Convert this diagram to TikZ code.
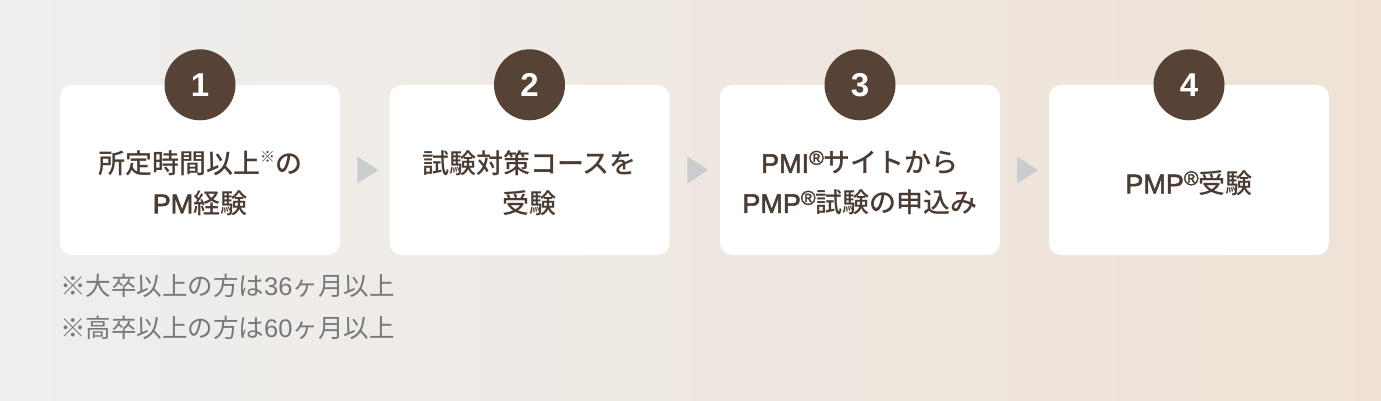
\documentclass[tikz,border=0pt]{standalone}
\usepackage{fontspec}
\setmainfont{Noto Sans CJK JP}[BoldFont={Noto Sans CJK JP Medium}]
\newfontfamily\latn{Liberation Sans}[BoldFont={Liberation Sans}, BoldFeatures={FakeBold=2}]
\newfontfamily\latb{Liberation Sans Bold}
\usetikzlibrary{shapes.geometric,calc}
\definecolor{bgL}{HTML}{EFEFEF}
\definecolor{bgR}{HTML}{EFE2D5}
\definecolor{brown}{HTML}{574336}
\definecolor{txt}{HTML}{4A3C32}
\definecolor{note}{HTML}{787878}
\definecolor{tri}{HTML}{CBCCCD}
\newcommand{\regmark}{\raisebox{0.3em}{\latn\fontsize{20}{20}\selectfont ®}}
\newcommand{\komemark}{\raisebox{0.38em}{\fontsize{15}{15}\selectfont ※}}
\newcommand{\lat}[1]{{\latn #1}}
\tikzset{
  stepbox/.style={fill=white, rounded corners=12pt, minimum width=280pt, minimum height=170pt, inner sep=0pt},
  numcircle/.style={circle, fill=brown, minimum size=71pt, inner sep=0pt, text=white, font=\latb\fontsize{33}{33}\selectfont},
  steptext/.style={text=txt, align=center, font=\bfseries\fontsize{27}{40}\selectfont},
  arrowtri/.style={isosceles triangle, isosceles triangle stretches=true, fill=tri, minimum height=21pt, minimum width=27pt, inner sep=0pt},
  notetext/.style={text=note, anchor=west, inner sep=0pt, font=\fontsize{25.5}{25.5}\selectfont}
}
\begin{document}
\begin{tikzpicture}[x=1pt,y=-1pt]
\shade[left color=bgL, right color=bgR] (0,0) rectangle (1381,401);
\useasboundingbox (0,0) rectangle (1381,401);
\node[stepbox] (b1) at (200,170) {};
\node[stepbox] (b2) at (529.5,170) {};
\node[stepbox] (b3) at (860,170) {};
\node[stepbox] (b4) at (1189,170) {};
\node[numcircle] (c1) at (b1.north) {1};
\node[numcircle] (c2) at (b2.north) {2};
\node[numcircle] (c3) at (b3.north) {3};
\node[numcircle] (c4) at (b4.north) {4};
\node[steptext] (t1) at ([yshift=-13pt]b1.center) {所定時間以上\komemark の\\\lat{PM}経験};
\node[steptext] (t2) at ([yshift=-13pt]b2.center) {試験対策コースを\\受験};
\node[steptext] (t3) at ([yshift=-13pt]b3.center) {\lat{PMI}\regmark サイトから\\\lat{PMP}\regmark 試験の申込み};
\node[steptext] (t4) at ([yshift=-13pt]b4.center) {\lat{PMP}\regmark 受験};
\node[arrowtri] (a1) at ($(b1.east)!0.5!(b2.west)$) {};
\node[arrowtri] (a2) at ($(b2.east)!0.5!(b3.west)$) {};
\node[arrowtri] (a3) at ($(b3.east)!0.5!(b4.west)$) {};
\node[notetext] (n1) at (60,286) {※大卒以上の方は\lat{36}ヶ月以上};
\node[notetext] (n2) at (60,328) {※高卒以上の方は\lat{60}ヶ月以上};
\end{tikzpicture}
\end{document}
